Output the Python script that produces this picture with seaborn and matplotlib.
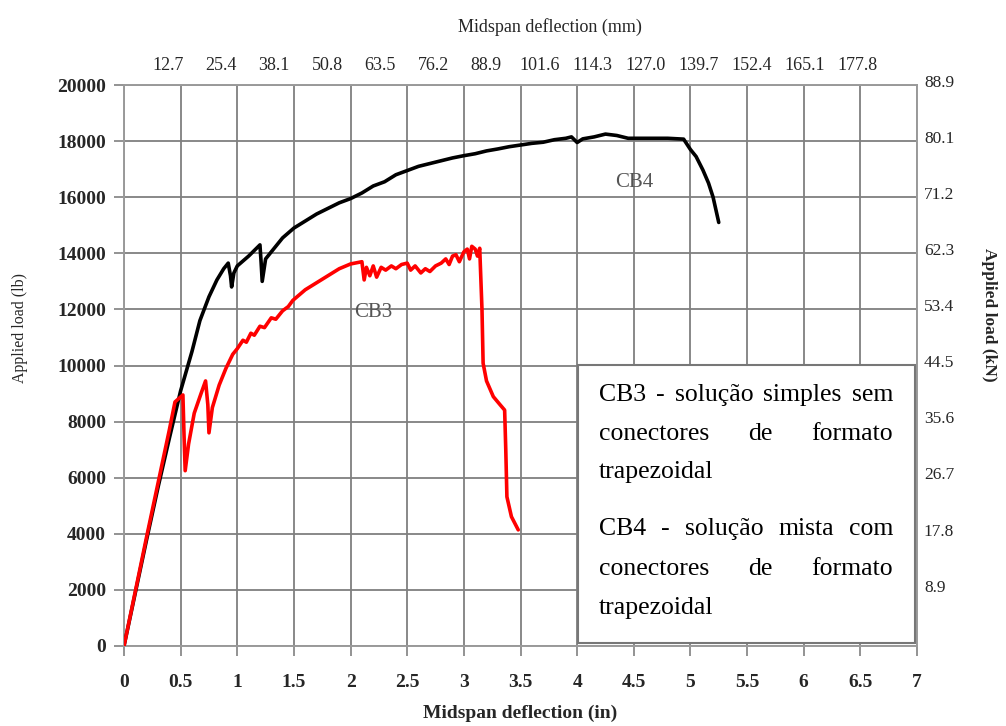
import numpy as np
import pandas as pd
import matplotlib
matplotlib.use("Agg")
import matplotlib.pyplot as plt
import matplotlib.transforms as mtransforms
from matplotlib.patches import Rectangle
import seaborn as sns

# ---------------- data ----------------
cb4_x = [0, 0.1, 0.2, 0.3, 0.4, 0.5, 0.6, 0.67, 0.75, 0.82, 0.88, 0.92, 0.94, 0.95, 0.97, 1.0,
         1.1, 1.2, 1.21, 1.22, 1.25, 1.3, 1.4, 1.5, 1.6, 1.7, 1.8, 1.9, 2.0, 2.1, 2.2, 2.3,
         2.4, 2.5, 2.6, 2.7, 2.8, 2.9, 3.0, 3.1, 3.2, 3.3, 3.4, 3.5, 3.6, 3.7, 3.8, 3.9,
         3.95, 4.0, 4.05, 4.15, 4.25, 4.35, 4.45, 4.6, 4.8, 4.94, 5.0, 5.05, 5.11, 5.16, 5.2, 5.25]
cb4_y = [0, 1900, 3800, 5650, 7400, 9100, 10500, 11600, 12450, 13050, 13450, 13650, 13200, 12800, 13300, 13550,
         13900, 14300, 13700, 13000, 13800, 14050, 14550, 14900, 15150, 15400, 15600, 15800, 15950, 16150, 16400, 16550,
         16800, 16950, 17100, 17200, 17300, 17400, 17480, 17550, 17650, 17720, 17800, 17860, 17920, 17960, 18050, 18100,
         18150, 17950, 18080, 18150, 18250, 18200, 18100, 18100, 18100, 18070, 17700, 17450, 16970, 16500, 16000, 15100]

cb3_x = [0, 0.1, 0.2, 0.3, 0.4, 0.45, 0.52, 0.53, 0.54, 0.57, 0.62, 0.68, 0.72, 0.74, 0.75, 0.78,
         0.84, 0.9, 0.96, 1.0, 1.05, 1.08, 1.12, 1.15, 1.2, 1.24, 1.3, 1.34, 1.4, 1.45, 1.49,
         1.6, 1.7, 1.8, 1.9, 2.0, 2.1, 2.12, 2.14, 2.17, 2.2, 2.23, 2.27, 2.31, 2.36,
         2.4, 2.45, 2.5, 2.53, 2.57, 2.62, 2.66, 2.7, 2.75, 2.8, 2.84, 2.87, 2.9, 2.93, 2.96, 3.0,
         3.03, 3.05, 3.07, 3.1, 3.12, 3.14, 3.16, 3.17, 3.2, 3.26, 3.32, 3.36, 3.37, 3.38, 3.42, 3.48]
cb3_y = [0, 1950, 3900, 5800, 7700, 8700, 8950, 7500, 6250, 7200, 8300, 9000, 9450, 8600, 7600, 8500,
         9300, 9900, 10400, 10600, 10900, 10830, 11150, 11080, 11400, 11350, 11700, 11650, 11950, 12100, 12320,
         12700, 12950, 13200, 13450, 13620, 13700, 13050, 13500, 13200, 13550, 13150, 13500, 13400, 13550,
         13450, 13600, 13650, 13400, 13550, 13300, 13450, 13350, 13550, 13650, 13800, 13600, 13900, 13950, 13700, 14050,
         14150, 13800, 14250, 14150, 13900, 14180, 12000, 10080, 9450, 8890, 8600, 8410, 7000, 5320, 4610, 4140]

x_ticks = [0, 0.5, 1, 1.5, 2, 2.5, 3, 3.5, 4, 4.5, 5, 5.5, 6, 6.5, 7]
x_tick_labels = ["0", "0.5", "1", "1.5", "2", "2.5", "3", "3.5", "4", "4.5", "5", "5.5", "6", "6.5", "7"]
y_ticks = [0, 2000, 4000, 6000, 8000, 10000, 12000, 14000, 16000, 18000, 20000]
mm_ticks = [12.7, 25.4, 38.1, 50.8, 63.5, 76.2, 88.9, 101.6, 114.3, 127.0, 139.7, 152.4, 165.1, 177.8]
kn_ticks = [8.9, 17.8, 26.7, 35.6, 44.5, 53.4, 62.3, 71.2, 80.1, 88.9]

legend_lines = [
    (["CB3", "-", "solução", "simples", "sem"], True),
    (["conectores", "de", "formato"], True),
    (["trapezoidal"], False),
    (["CB4", "-", "solução", "mista", "com"], True),
    (["conectores", "de", "formato"], True),
    (["trapezoidal"], False),
]

# ---------------- style ----------------
sns.set_theme(style="white")
plt.rcParams["font.family"] = ["Liberation Serif", "DejaVu Serif"]

fig = plt.figure(figsize=(10.06, 7.26), dpi=100)
ax = fig.add_axes([124 / 1006, 1 - 646 / 726, 793 / 1006, 561 / 726])

df4 = pd.DataFrame({"x": cb4_x, "y": cb4_y})
df3 = pd.DataFrame({"x": cb3_x, "y": cb3_y})
sns.lineplot(data=df4, x="x", y="y", sort=False, estimator=None, color="black", lw=2.6, ax=ax, zorder=4)
sns.lineplot(data=df3, x="x", y="y", sort=False, estimator=None, color="#ff0000", lw=2.6, ax=ax, zorder=4)

ax.set_xlim(0, 7)
ax.set_ylim(0, 20000)
ax.set_xticks(x_ticks)
ax.set_xticklabels(x_tick_labels, fontsize=14, fontweight="bold")
ax.set_yticks(y_ticks)
ax.set_yticklabels([str(v) for v in y_ticks], fontsize=14, fontweight="bold")
ax.grid(True, color="#7f7f7f", lw=1.3)
ax.tick_params(axis="x", direction="out", length=7, width=1.3, color="#8a8a8a", pad=13, bottom=True)
ax.tick_params(axis="y", direction="out", length=7, width=1.3, color="#8a8a8a", pad=6, left=True)
for s in ax.spines.values():
    s.set_color("#9a9a9a")
    s.set_linewidth(1.4)
ax.set_xlabel("Midspan deflection (in)", fontsize=14, fontweight="bold")
ax.set_ylabel("Applied load (lb)", fontsize=11.5)
ax.yaxis.set_label_coords(-0.121, 0.567)
ax.xaxis.set_label_coords(0.5, -0.104)

ax.text(4.5, 16540, "CB4", fontsize=15, color="#555555", ha="center", va="center", zorder=5)
ax.text(2.2, 11900, "CB3", fontsize=15, color="#555555", ha="center", va="center", zorder=5)

# top axis (mm)
ax_top = ax.twiny()
ax_top.set_xlim(2.21, 192.04)
ax_top.set_xticks(mm_ticks)
ax_top.set_xticklabels([f"{v:.1f}" for v in mm_ticks], fontsize=13)
ax_top.tick_params(axis="x", length=0, pad=8, top=True)
ax_top.set_xlabel("Midspan deflection (mm)", fontsize=13)
ax_top.xaxis.set_label_coords(0.537, 1.094)
ax_top.grid(False)
for s in ax_top.spines.values():
    s.set_visible(False)

# right axis (kN)
ax_r = ax.twinx()
ax_r.set_ylim(0, 20000 / 224.809)
ax_r.set_yticks(kn_ticks)
ax_r.set_yticklabels([f"{v:.1f}" for v in kn_ticks], fontsize=12.5)
ax_r.tick_params(axis="y", length=0, pad=5, right=True)
ax_r.grid(False)
for s in ax_r.spines.values():
    s.set_visible(False)
offset = mtransforms.ScaledTranslation(0, 3 / 72, fig.dpi_scale_trans)
for lab in ax_r.get_yticklabels():
    lab.set_transform(lab.get_transform() + offset)
ax_r.set_ylabel("Applied load (kN)", fontsize=12.5, fontweight="bold", rotation=270)
ax_r.yaxis.set_label_coords(1.101, 0.59)

# legend box with justified text
box = Rectangle((0.5725, 0.005), 0.425, 0.4955, transform=ax.transAxes,
                facecolor="white", edgecolor="#777777", lw=1.5, zorder=5)
ax_r.add_patch(box)

x0, x1 = 0.599, 0.9697
baselines = [0.437, 0.367, 0.300, 0.198, 0.127, 0.0565]
fig.canvas.draw()
renderer = fig.canvas.get_renderer()
axw = ax.get_window_extent(renderer=renderer).width
for (words, justify), yb in zip(legend_lines, baselines):
    texts = [ax_r.text(0, yb, w, transform=ax.transAxes, fontsize=18.5, color="black",
                       ha="left", va="baseline", zorder=6) for w in words]
    widths = [t.get_window_extent(renderer=renderer).width / axw for t in texts]
    if justify and len(words) > 1:
        gap = (x1 - x0 - sum(widths)) / (len(words) - 1)
    else:
        gap = 0
    xc = x0
    for t, w in zip(texts, widths):
        t.set_x(xc)
        xc += w + gap

fig.savefig("out.png", dpi=100)
